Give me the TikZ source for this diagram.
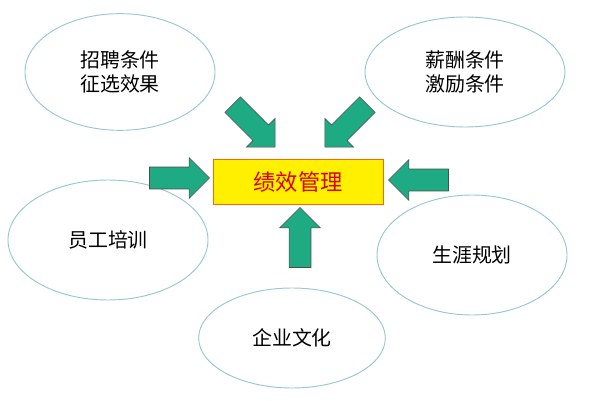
\documentclass[tikz,border=0pt]{standalone}
\usepackage{fontspec}
\newfontfamily\cjk{Noto Sans CJK SC}
\usetikzlibrary{shapes.geometric,shapes.arrows}
\definecolor{rimblue}{RGB}{150,200,210}
\definecolor{arrowgreen}{RGB}{30,170,130}
\definecolor{boxyellow}{RGB}{255,240,0}
\begin{document}
\begin{tikzpicture}[x=0.03cm,y=-0.03cm,
	oval/.style={ellipse,draw=rimblue,line width=0.8pt,fill=white,font=\cjk\fontsize{17}{21}\selectfont,align=center,inner sep=0pt},
	blockarrow/.style={single arrow,draw=black!70,fill=arrowgreen,line width=0.5pt,minimum height=1.8cm,inner xsep=0pt,inner ysep=0.32cm,single arrow head extend=0.28cm,single arrow head indent=0pt}]
		\useasboundingbox (0,0) rectangle (600,400);
		\node[oval,minimum width=5.7cm,minimum height=3.5cm] (A) at (120,72) {招聘条件\\征选效果};
		\node[oval,minimum width=6.0cm,minimum height=3.3cm] (B) at (465,72) {薪酬条件\\激励条件};
		\node[oval,minimum width=6.0cm,minimum height=3.6cm] (C) at (108,240) {员工培训};
		\node[oval,minimum width=5.7cm,minimum height=3.6cm] (D) at (472,255) {生涯规划};
		\node[oval,minimum width=5.6cm,minimum height=3.0cm] (E) at (292,338) {企业文化};
		\node[draw=orange!80!red,fill=boxyellow,line width=0.8pt,minimum width=5.1cm,minimum height=1.35cm,font=\cjk\fontsize{19}{23}\selectfont,text=red!85!black] (M) at (298,182) {绩效管理};
		% arrows
		\node[blockarrow] (aL) at (174,178) {};
		\node[blockarrow,shape border rotate=180] (aR) at (424,180) {};
		\node[blockarrow,rotate=90] (aB) at (300,243) {};
		\node[blockarrow,rotate=-45] (aA) at (250,122) {};
		\node[blockarrow,rotate=-135] (aD) at (350,122) {};
\end{tikzpicture}
\end{document}
